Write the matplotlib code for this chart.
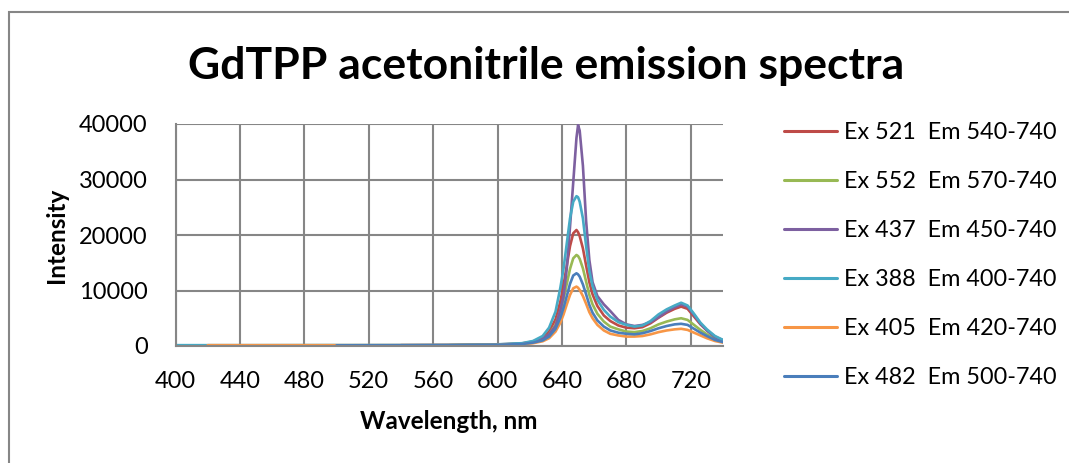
import numpy as np
import matplotlib
matplotlib.use("Agg")
import matplotlib.pyplot as plt
from matplotlib.patches import Rectangle

plt.rcParams['font.family'] = ['Lato', 'DejaVu Sans']

# Wavelength grid (nm) shared by all spectra; NaN where a scan was not recorded
wavelength = [400, 420, 450, 500, 540, 570, 600, 615, 622, 628, 632, 636,
              639, 641, 643, 645, 647, 649, 650, 651, 653, 655, 657, 659,
              662, 666, 670, 675, 680, 685, 690, 695, 700, 705, 710, 714,
              718, 722, 726, 730, 735, 740]

nan = np.nan
ex521 = [nan, nan, nan, nan, 150, 170, 280, 450, 800, 1500, 2600, 4800,
         8000, 11000, 14500, 18000, 20300, 20900, 20500, 19800, 17600, 14500, 11500, 9300,
         7200, 5500, 4500, 3700, 3300, 3200, 3400, 4100, 5100, 6000, 6700, 7100,
         6700, 5300, 3900, 2800, 1700, 1000]
ex552 = [nan, nan, nan, nan, nan, 150, 250, 400, 700, 1200, 2100, 3800,
         6300, 8500, 11200, 13900, 15800, 16400, 16200, 15700, 14000, 11600, 9200, 7500,
         5800, 4400, 3500, 3000, 2600, 2500, 2700, 3200, 3900, 4400, 4800, 5000,
         4700, 3800, 2900, 2100, 1300, 800]
ex437 = [nan, nan, 100, 120, 130, 150, 250, 400, 700, 1300, 2100, 3600,
         6500, 9000, 14000, 21500, 29500, 37500, 39800, 38800, 32500, 22500, 15500, 11500,
         9000, 7500, 6300, 4700, 3900, 3600, 3800, 4300, 5200, 6200, 7000, 7500,
         7100, 5600, 4000, 2800, 1600, 1000]
ex388 = [150, 150, 150, 170, 180, 200, 300, 500, 900, 1800, 3300, 6200,
         10500, 14000, 18500, 23000, 26000, 27000, 26800, 26000, 23000, 18000, 13500, 10800,
         8300, 6500, 5300, 4300, 3800, 3500, 3700, 4500, 5700, 6600, 7300, 7800,
         7300, 5800, 4200, 3000, 1800, 1100]
ex405 = [nan, 150, 150, 150, 150, 160, 200, 300, 500, 850, 1400, 2600,
         4200, 5700, 7500, 9200, 10400, 10700, 10500, 10100, 9000, 7600, 6100, 5000,
         3800, 2800, 2200, 1900, 1700, 1700, 1800, 2100, 2500, 2800, 3000, 3100,
         2900, 2400, 1900, 1400, 900, 600]
ex482 = [nan, nan, nan, 120, 130, 150, 220, 350, 600, 1000, 1700, 3100,
         5100, 6900, 9000, 11200, 12700, 13100, 12900, 12500, 11100, 9300, 7400, 6000,
         4600, 3500, 2800, 2400, 2200, 2100, 2300, 2700, 3200, 3600, 3900, 4000,
         3800, 3100, 2400, 1800, 1100, 700]

series = [ex521, ex552, ex437, ex388, ex405, ex482]
labels = ["Ex 521  Em 540-740", "Ex 552  Em 570-740", "Ex 437  Em 450-740",
          "Ex 388  Em 400-740", "Ex 405  Em 420-740", "Ex 482  Em 500-740"]
colors = ["#BE4B48", "#98B954", "#7D60A0", "#46AAC5", "#F79646", "#4A7EBB"]

x_ticks = [400, 440, 480, 520, 560, 600, 640, 680, 720]
y_ticks = [0, 10000, 20000, 30000, 40000]

W, H = 1069, 463
fig = plt.figure(figsize=(W / 100, H / 100), dpi=100)
ax = fig.add_axes([175.5 / W, 1 - 346 / H, (723 - 175.5) / W, (346 - 124) / H])

for y, lab, c in zip(series, labels, colors):
    ax.plot(wavelength, y, color=c, lw=1.9, label=lab,
            solid_capstyle='round', solid_joinstyle='round')

ax.set_xlim(400, 740)
ax.set_ylim(0, 40000)
ax.set_xticks(x_ticks)
ax.set_yticks(y_ticks)
ax.grid(True, color="#868686", lw=1.5)
ax.set_axisbelow(True)
for side in ["top", "right"]:
    ax.spines[side].set_visible(False)
for side in ["left", "bottom"]:
    ax.spines[side].set_color("#868686")
    ax.spines[side].set_linewidth(1.5)
ax.tick_params(length=0, labelsize=17, colors="black")
ax.tick_params(axis='y', pad=20)
ax.tick_params(axis='x', pad=18)

ax.set_xlabel("Wavelength, nm", fontsize=17.5, fontweight="bold", labelpad=13)
ax.set_ylabel("Intensity", fontsize=17.5, fontweight="bold", labelpad=8)

fig.text(546.5 / W, 1 - 66 / H, "GdTPP acetonitrile emission spectra",
         ha="center", va="center", fontsize=32, fontweight="bold")

leg = fig.legend(loc="upper left", bbox_to_anchor=(775 / W, 1 - 113 / H),
                 frameon=False, fontsize=16.8, handlelength=2.27,
                 handletextpad=0.27, labelspacing=1.2, borderaxespad=0)
for line in leg.get_lines():
    line.set_linewidth(2.2)

fig.patches.append(Rectangle((8.5 / W, -0.1), 1.2, 1.1 - 12.5 / H,
                             transform=fig.transFigure, fill=False,
                             edgecolor="#868686", lw=1.5))

fig.savefig("out.png", dpi=100, facecolor="white")
